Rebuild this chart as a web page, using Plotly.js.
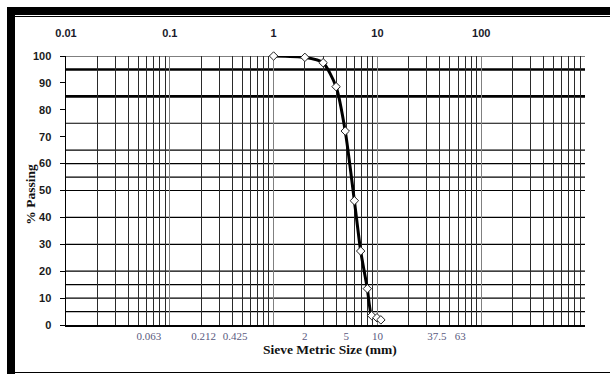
<!DOCTYPE html>
<html>
<head>
<meta charset="utf-8">
<script src="https://cdn.plot.ly/plotly-3.0.1.min.js"></script>
<style>
  html, body { margin: 0; padding: 0; background: #fff; }
  #wrap { position: relative; width: 610px; height: 374px; overflow: hidden; }
  #chart { position: absolute; left: 0; top: 0; width: 610px; height: 374px; }
  .bar { position: absolute; background: #000; }
</style>
</head>
<body>
<div id="wrap">
  <div id="chart"></div>
  <div class="bar" style="left:7px; top:7px; width:603px; height:8px;"></div>
  <div class="bar" style="left:15px; top:16px; width:595px; height:1px;"></div>
  <div class="bar" style="left:7px; top:7px; width:8px; height:367px;"></div>
  <div class="bar" style="left:15px; top:372px; width:595px; height:1px;"></div>
</div>
<script>
// Sieve sizes (mm) and percent passing
const sieveSize = [1, 2, 3, 4, 4.9, 6, 6.9, 8, 8.8, 9.9, 10.8];
const passing   = [100, 99.5, 97.5, 88.6, 72.1, 46.2, 27.5, 13.5, 3.5, 2.7, 1.9];

// Bottom axis sieve labels
const sieveTickVals   = [0.063, 0.212, 0.425, 2, 5, 10, 37.5, 63];
const sieveTickLabels = ['0.063', '0.212', '0.425', '2', '5', '10', '37.5', '63'];

// Top axis decade labels
const decadeVals   = [0.01, 0.1, 1, 10, 100, 1000];
const decadeLabels = ['0.01', '0.1', '1', '10', '100', ''];

// Y axis ticks
const yTickVals = [0, 10, 20, 30, 40, 50, 60, 70, 80, 90, 100];

// Horizontal grid lines present in the reference
const hGridThin  = [5, 10, 15, 20, 30, 40, 50, 55, 60, 65, 75, 100];
const hGridThick = [85, 95];

const shapes = [];
hGridThin.forEach(v => shapes.push({type:'line', xref:'paper', yref:'y', x0:0, x1:1, y0:v, y1:v,
  layer:'between', line:{color:'#000', width:1.2}}));
hGridThick.forEach(v => shapes.push({type:'line', xref:'paper', yref:'y', x0:0, x1:1, y0:v, y1:v,
  layer:'between', line:{color:'#000', width:2.6}}));

const traces = [
  {
    x: sieveSize, y: passing, xaxis:'x', yaxis:'y',
    type:'scatter', mode:'lines+markers',
    line:{color:'#000', width:3, shape:'spline', smoothing:0.6},
    marker:{symbol:'diamond', size:6.5, color:'#fff', line:{color:'#222', width:1}},
    hoverinfo:'x+y', showlegend:false, cliponaxis:false
  },
  {
    x: decadeVals, y: decadeVals.map(() => null), xaxis:'x2', yaxis:'y',
    type:'scatter', mode:'markers', showlegend:false, hoverinfo:'skip'
  }
];

const serif = 'Liberation Serif, Times New Roman, serif';
const sans = 'Liberation Sans, Arial, sans-serif';

const layout = {
  width:610, height:374,
  margin:{l:66, r:25, t:56, b:49},
  paper_bgcolor:'#fff', plot_bgcolor:'#fff',
  showlegend:false,
  xaxis:{
    type:'log', range:[-2, 3],
    tickmode:'array', tickvals:sieveTickVals, ticktext:sieveTickLabels,
    showgrid:false, zeroline:false,
    ticks:'', showline:true, linecolor:'#000', linewidth:1.5,
    tickfont:{family:serif, size:11, color:'#5a5a80'},
    ticklabelstandoff:0
  },
  xaxis2:{
    type:'log', range:[-2, 3], overlaying:'x', side:'top', anchor:'y',
    tickmode:'array', tickvals:decadeVals, ticktext:decadeLabels,
    showgrid:true, gridcolor:'#808080', gridwidth:1.2,
    minor:{dtick:'D1', showgrid:true, gridcolor:'#2a2a2a', gridwidth:1},
    ticks:'', showline:false, zeroline:false,
    ticklabelstandoff:16,
    tickfont:{family:sans, size:11, color:'#1a1a2a', weight:700}
  },
  yaxis:{
    range:[0, 100], tickmode:'array', tickvals:yTickVals,
    showgrid:false, zeroline:false,
    ticks:'outside', ticklen:5, tickcolor:'#000', tickwidth:1,
    showline:true, linecolor:'#000', linewidth:1.5,
    ticklabelstandoff:6,
    tickfont:{family:sans, size:11, color:'#1a1a1a', weight:700}
  },
  annotations:[
    {
      text:'% Passing', xref:'paper', yref:'paper', x:-0.069, y:0.5, yshift:-4,
      xanchor:'center', yanchor:'middle', textangle:-90, showarrow:false,
      font:{family:serif, size:13.5, color:'#111', weight:700}
    },
    {
      text:'Sieve Metric Size (mm)', xref:'paper', yref:'paper', x:0.5, y:-0.09, xshift:4,
      xanchor:'center', yanchor:'middle', showarrow:false,
      font:{family:serif, size:13.5, color:'#111', weight:700}
    }
  ],
  shapes: shapes
};

Plotly.newPlot('chart', traces, layout, {staticPlot:true, displayModeBar:false});
</script>
</body>
</html>
